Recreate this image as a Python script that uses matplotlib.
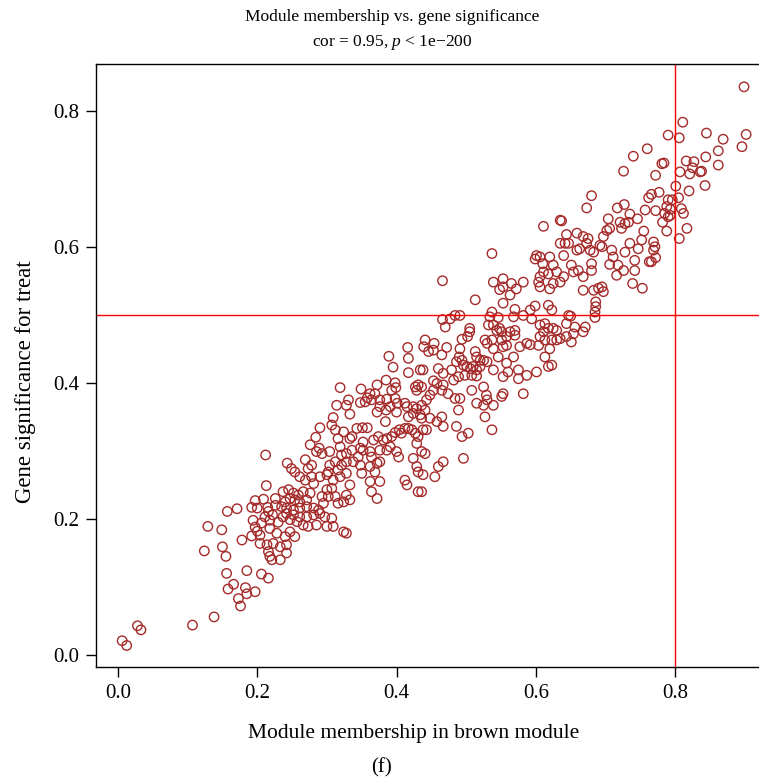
import numpy as np
import matplotlib.pyplot as plt

plt.rcParams['font.family'] = ['Liberation Serif', 'DejaVu Serif']
plt.rcParams['mathtext.fontset'] = 'custom'
plt.rcParams['mathtext.rm'] = 'Liberation Serif'
plt.rcParams['mathtext.it'] = 'Liberation Serif:italic'

# (module membership, gene significance), by region
tail_low = [(0.006, 0.021), (0.0125, 0.014), (0.028, 0.043), (0.033, 0.037), (0.107, 0.044),
            (0.138, 0.056), (0.176, 0.072)]

cloud_left = [(0.212, 0.294), (0.213, 0.249), (0.197, 0.227), (0.209, 0.229), (0.171, 0.215),
              (0.157, 0.211), (0.129, 0.189), (0.149, 0.184), (0.192, 0.217), (0.200, 0.216),
              (0.215, 0.217), (0.226, 0.220), (0.216, 0.211), (0.211, 0.203), (0.218, 0.198),
              (0.206, 0.194), (0.194, 0.198), (0.197, 0.188), (0.200, 0.182), (0.192, 0.175),
              (0.178, 0.169), (0.204, 0.176), (0.218, 0.186), (0.228, 0.179), (0.204, 0.164),
              (0.214, 0.162), (0.223, 0.164), (0.233, 0.159), (0.242, 0.162), (0.216, 0.152),
              (0.218, 0.145), (0.221, 0.140), (0.233, 0.140), (0.242, 0.150), (0.150, 0.159),
              (0.155, 0.145), (0.124, 0.153), (0.156, 0.120), (0.185, 0.124), (0.206, 0.119),
              (0.216, 0.113), (0.166, 0.104), (0.158, 0.097), (0.183, 0.099), (0.197, 0.093),
              (0.185, 0.090), (0.173, 0.083), (0.226, 0.230), (0.222, 0.206), (0.230, 0.195)]

cloud_mid = [(0.389, 0.439), (0.395, 0.423), (0.416, 0.452), (0.417, 0.436), (0.417, 0.415),
             (0.319, 0.393), (0.349, 0.391), (0.372, 0.397), (0.385, 0.404), (0.398, 0.400),
             (0.399, 0.393), (0.393, 0.389), (0.362, 0.384), (0.369, 0.384), (0.358, 0.378),
             (0.348, 0.371), (0.355, 0.372), (0.364, 0.375), (0.376, 0.375), (0.386, 0.376),
             (0.398, 0.377), (0.401, 0.370), (0.412, 0.370), (0.415, 0.365), (0.331, 0.375),
             (0.328, 0.367), (0.314, 0.367), (0.333, 0.354), (0.372, 0.357), (0.385, 0.360),
             (0.384, 0.343), (0.400, 0.357), (0.376, 0.365), (0.391, 0.365), (0.417, 0.350),
             (0.417, 0.333), (0.309, 0.349), (0.307, 0.338), (0.290, 0.334), (0.284, 0.320),
             (0.276, 0.309), (0.312, 0.331), (0.324, 0.328), (0.316, 0.318), (0.333, 0.318),
             (0.343, 0.333), (0.351, 0.334), (0.358, 0.334), (0.336, 0.321), (0.352, 0.313),
             (0.367, 0.316), (0.374, 0.321), (0.381, 0.316), (0.386, 0.318), (0.393, 0.321),
             (0.398, 0.327), (0.404, 0.331), (0.407, 0.326), (0.412, 0.333), (0.391, 0.306),
             (0.400, 0.299), (0.403, 0.291), (0.376, 0.301), (0.386, 0.301), (0.289, 0.304),
             (0.293, 0.296), (0.285, 0.299), (0.304, 0.299), (0.319, 0.306), (0.321, 0.294),
             (0.328, 0.296), (0.336, 0.301), (0.348, 0.304), (0.345, 0.291), (0.352, 0.301),
             (0.362, 0.299), (0.364, 0.291), (0.338, 0.284), (0.328, 0.284), (0.321, 0.279),
             (0.312, 0.284), (0.304, 0.279), (0.302, 0.269), (0.316, 0.272), (0.348, 0.279),
             (0.350, 0.267), (0.362, 0.277), (0.369, 0.269), (0.372, 0.282), (0.376, 0.284),
             (0.269, 0.287), (0.278, 0.279), (0.273, 0.274), (0.243, 0.282), (0.249, 0.274),
             (0.254, 0.269), (0.261, 0.262), (0.269, 0.257), (0.278, 0.262), (0.281, 0.252),
             (0.290, 0.262), (0.300, 0.265), (0.309, 0.257), (0.319, 0.262), (0.328, 0.267),
             (0.307, 0.245), (0.300, 0.243), (0.333, 0.250), (0.328, 0.235), (0.333, 0.228),
             (0.324, 0.225), (0.316, 0.223), (0.312, 0.233), (0.302, 0.233), (0.293, 0.233),
             (0.295, 0.223), (0.362, 0.255), (0.364, 0.240), (0.372, 0.230), (0.376, 0.255),
             (0.412, 0.257), (0.415, 0.250), (0.237, 0.240), (0.245, 0.243), (0.252, 0.238),
             (0.259, 0.235), (0.266, 0.240), (0.276, 0.238), (0.271, 0.228), (0.261, 0.225),
             (0.254, 0.228), (0.247, 0.230), (0.240, 0.225), (0.235, 0.218), (0.242, 0.216),
             (0.252, 0.213), (0.261, 0.216), (0.271, 0.218), (0.281, 0.216), (0.288, 0.213),
             (0.290, 0.208), (0.281, 0.206), (0.271, 0.203), (0.261, 0.203), (0.252, 0.206),
             (0.242, 0.208), (0.237, 0.203), (0.247, 0.199), (0.257, 0.196), (0.266, 0.191),
             (0.273, 0.189), (0.285, 0.191), (0.297, 0.203), (0.307, 0.201), (0.309, 0.189),
             (0.300, 0.189), (0.324, 0.181), (0.328, 0.179), (0.247, 0.181), (0.254, 0.174),
             (0.240, 0.174)]

cloud_centre = [(0.513, 0.522), (0.466, 0.493), (0.477, 0.494), (0.484, 0.499), (0.491, 0.499),
                (0.470, 0.482), (0.505, 0.480), (0.505, 0.475), (0.502, 0.468), (0.494, 0.464),
                (0.441, 0.463), (0.454, 0.458), (0.439, 0.453), (0.446, 0.446), (0.453, 0.448),
                (0.465, 0.441), (0.472, 0.452), (0.491, 0.450), (0.490, 0.438), (0.494, 0.433),
                (0.486, 0.431), (0.496, 0.426), (0.501, 0.424), (0.506, 0.421), (0.510, 0.424),
                (0.515, 0.419), (0.520, 0.424), (0.513, 0.446), (0.515, 0.438), (0.520, 0.433),
                (0.527, 0.463), (0.530, 0.458), (0.525, 0.433), (0.530, 0.431), (0.434, 0.419),
                (0.438, 0.419), (0.460, 0.421), (0.467, 0.414), (0.479, 0.419), (0.482, 0.404),
                (0.489, 0.409), (0.498, 0.411), (0.508, 0.411), (0.515, 0.410), (0.427, 0.394),
                (0.431, 0.397), (0.436, 0.394), (0.429, 0.389), (0.453, 0.403), (0.458, 0.399),
                (0.467, 0.397), (0.465, 0.389), (0.453, 0.389), (0.448, 0.382), (0.443, 0.375),
                (0.474, 0.384), (0.484, 0.377), (0.491, 0.377), (0.489, 0.360), (0.508, 0.389),
                (0.525, 0.394), (0.525, 0.367), (0.530, 0.375), (0.515, 0.370), (0.527, 0.350),
                (0.424, 0.365), (0.429, 0.362), (0.436, 0.367), (0.441, 0.360), (0.434, 0.353),
                (0.424, 0.355), (0.436, 0.348), (0.448, 0.348), (0.458, 0.343), (0.465, 0.350),
                (0.467, 0.336), (0.422, 0.331), (0.427, 0.326), (0.431, 0.321), (0.438, 0.331),
                (0.443, 0.331), (0.429, 0.311), (0.436, 0.299), (0.441, 0.296), (0.424, 0.289),
                (0.486, 0.336), (0.494, 0.321), (0.503, 0.326), (0.496, 0.289), (0.460, 0.277),
                (0.467, 0.284), (0.455, 0.262), (0.438, 0.265), (0.431, 0.269), (0.429, 0.277),
                (0.431, 0.240), (0.436, 0.240), (0.466, 0.550)]

cloud_upper = [(0.537, 0.590), (0.601, 0.587), (0.606, 0.585), (0.599, 0.582), (0.610, 0.575),
               (0.620, 0.585), (0.625, 0.573), (0.611, 0.563), (0.606, 0.556), (0.618, 0.560),
               (0.630, 0.563), (0.640, 0.556), (0.635, 0.548), (0.625, 0.546), (0.620, 0.538),
               (0.606, 0.541), (0.604, 0.548), (0.640, 0.587), (0.539, 0.548), (0.553, 0.553),
               (0.553, 0.541), (0.548, 0.537), (0.565, 0.546), (0.572, 0.538), (0.582, 0.548),
               (0.563, 0.529), (0.553, 0.517), (0.599, 0.513), (0.592, 0.507), (0.618, 0.514),
               (0.623, 0.507), (0.570, 0.508), (0.568, 0.497), (0.582, 0.499), (0.594, 0.494),
               (0.537, 0.504), (0.546, 0.496), (0.534, 0.497), (0.532, 0.485), (0.539, 0.485),
               (0.548, 0.480), (0.551, 0.475), (0.544, 0.477), (0.563, 0.475), (0.570, 0.477),
               (0.558, 0.468), (0.551, 0.463), (0.537, 0.463), (0.539, 0.450), (0.553, 0.453),
               (0.558, 0.455), (0.577, 0.453), (0.587, 0.458), (0.592, 0.456), (0.570, 0.470),
               (0.606, 0.485), (0.613, 0.487), (0.618, 0.480), (0.625, 0.480), (0.630, 0.477),
               (0.611, 0.475), (0.606, 0.468), (0.613, 0.463), (0.623, 0.463), (0.635, 0.465),
               (0.644, 0.468), (0.644, 0.487), (0.647, 0.499), (0.620, 0.450), (0.613, 0.438),
               (0.630, 0.463), (0.604, 0.455), (0.546, 0.438), (0.558, 0.429), (0.568, 0.438),
               (0.560, 0.416), (0.553, 0.409), (0.575, 0.419), (0.587, 0.411), (0.575, 0.406),
               (0.601, 0.416), (0.618, 0.424), (0.623, 0.426), (0.539, 0.419), (0.582, 0.384),
               (0.553, 0.384), (0.551, 0.380), (0.537, 0.331), (0.529, 0.382), (0.539, 0.367)]

cloud_high = [(0.680, 0.675), (0.673, 0.657), (0.717, 0.657), (0.727, 0.662), (0.735, 0.648),
              (0.746, 0.641), (0.757, 0.654), (0.762, 0.672), (0.704, 0.641), (0.721, 0.636),
              (0.728, 0.634), (0.733, 0.636), (0.723, 0.627), (0.706, 0.627), (0.702, 0.624),
              (0.697, 0.615), (0.692, 0.602), (0.695, 0.600), (0.755, 0.623), (0.752, 0.610),
              (0.735, 0.605), (0.747, 0.597), (0.728, 0.592), (0.709, 0.595), (0.711, 0.585),
              (0.706, 0.574), (0.718, 0.573), (0.726, 0.565), (0.742, 0.580), (0.742, 0.565),
              (0.716, 0.558), (0.739, 0.546), (0.753, 0.539), (0.763, 0.578), (0.611, 0.630),
              (0.635, 0.639), (0.637, 0.638), (0.644, 0.618), (0.659, 0.620), (0.668, 0.615),
              (0.675, 0.612), (0.683, 0.592), (0.678, 0.595), (0.673, 0.605), (0.663, 0.597),
              (0.659, 0.595), (0.651, 0.573), (0.654, 0.563), (0.661, 0.565), (0.668, 0.556),
              (0.680, 0.565), (0.680, 0.575), (0.635, 0.605), (0.642, 0.605), (0.647, 0.605),
              (0.668, 0.536), (0.683, 0.536), (0.690, 0.539), (0.695, 0.541), (0.697, 0.534),
              (0.686, 0.519), (0.686, 0.512), (0.685, 0.504), (0.685, 0.496), (0.650, 0.498),
              (0.656, 0.482), (0.671, 0.482), (0.668, 0.475), (0.654, 0.472), (0.651, 0.460)]

tail_high = [(0.811, 0.783), (0.790, 0.764), (0.806, 0.760), (0.845, 0.767), (0.740, 0.733),
             (0.760, 0.744), (0.726, 0.711), (0.781, 0.722), (0.784, 0.723), (0.772, 0.705),
             (0.816, 0.726), (0.827, 0.725), (0.844, 0.732), (0.807, 0.710), (0.821, 0.707),
             (0.825, 0.716), (0.836, 0.710), (0.838, 0.711), (0.843, 0.690), (0.801, 0.689),
             (0.820, 0.682), (0.766, 0.677), (0.777, 0.680), (0.790, 0.669), (0.796, 0.669),
             (0.805, 0.672), (0.788, 0.659), (0.793, 0.655), (0.785, 0.649), (0.793, 0.646),
             (0.790, 0.644), (0.782, 0.636), (0.809, 0.656), (0.812, 0.649), (0.772, 0.653),
             (0.788, 0.623), (0.817, 0.627), (0.806, 0.612), (0.769, 0.607), (0.771, 0.600),
             (0.769, 0.595), (0.772, 0.584), (0.766, 0.578), (0.899, 0.835), (0.869, 0.758),
             (0.902, 0.765), (0.896, 0.747), (0.862, 0.741), (0.862, 0.720)]

points = np.array(tail_low + cloud_left + cloud_mid + cloud_centre + cloud_upper + cloud_high + tail_high)
membership, significance = points[:, 0], points[:, 1]

mm_cut = 0.8
gs_cut = 0.5
ticks = [0.0, 0.2, 0.4, 0.6, 0.8]

fig = plt.figure(figsize=(7.59, 7.82), dpi=100)
ax = fig.add_axes([0.127, 0.1467, 0.890, 0.771])

ax.scatter(membership, significance, s=46, facecolors='none', edgecolors='#A52A2A', linewidths=1.0)
ax.axhline(gs_cut, color='red', lw=1.0)
ax.axvline(mm_cut, color='red', lw=1.0)

ax.set_xlim(-0.031, 0.939)
ax.set_ylim(-0.018, 0.868)
ax.set_xticks(ticks)
ax.set_yticks(ticks)
ax.set_xticklabels([f'{t:.1f}' for t in ticks])
ax.set_yticklabels([f'{t:.1f}' for t in ticks])
ax.tick_params(labelsize=15, length=7, width=1, direction='out', pad=5)
for sp in ax.spines.values():
    sp.set_linewidth(1.0)
ax.spines['right'].set_visible(False)

fig.text(0.517, 0.978, 'Module membership vs. gene significance', ha='center', va='center', fontsize=12.5)
fig.text(0.517, 0.946, r'cor = 0.95, $p$ < 1e−200', ha='center', va='center', fontsize=12.5)
fig.text(0.545, 0.062, 'Module membership in brown module', ha='center', va='center', fontsize=15.5)
fig.text(0.033, 0.512, 'Gene significance for treat', ha='center', va='center', rotation=90, fontsize=16.5)
fig.text(0.502, 0.018, '(f)', ha='center', va='center', fontsize=15)

fig.savefig('out.png', dpi=100)
